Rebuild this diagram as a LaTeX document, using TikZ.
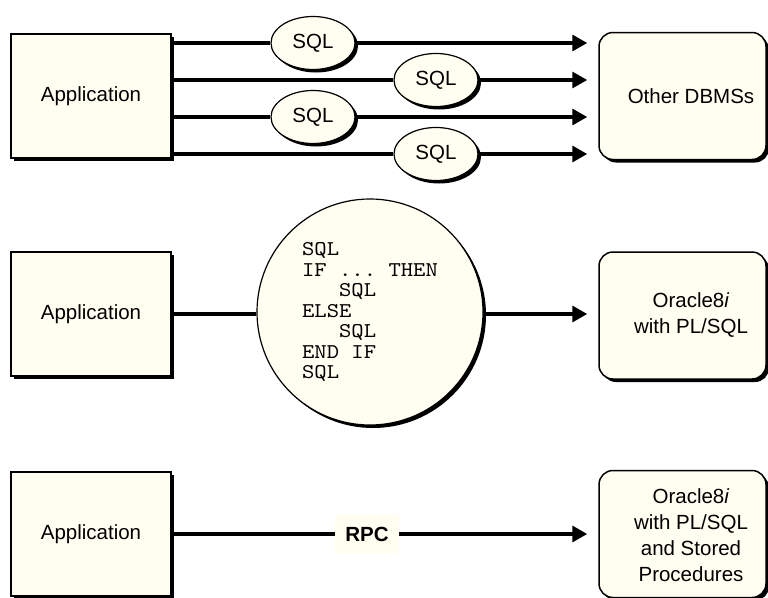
\documentclass[tikz,border=0pt]{standalone}
\usepackage{fontspec}
\setmainfont{Liberation Sans}
\setmonofont{lmmono10-regular}[Extension=.otf,FakeStretch=1.12]
\usetikzlibrary{shapes.geometric,shadows,arrows.meta}
\definecolor{cream}{RGB}{255,254,240}

\begin{document}
\begin{tikzpicture}
  [x=1pt,y=-1pt,
   every node/.style={font=\fontsize{20.5}{26}\selectfont},
   dropshade/.style={drop shadow={shadow xshift=3pt,shadow yshift=-3pt,fill=black,opacity=1}},
   appbox/.style={draw,line width=1.5pt,fill=cream,dropshade,minimum width=160pt,minimum height=124pt},
   dbbox/.style={draw,line width=1.5pt,fill=cream,dropshade,rounded corners=14pt,minimum width=167pt,minimum height=127pt},
   sqlbubble/.style={ellipse,draw,line width=1.2pt,fill=cream,dropshade,minimum width=84pt,minimum height=53pt,inner sep=0pt},
   wire/.style={line width=3.3pt},
   tip/.style={-{Triangle[length=15pt,width=16pt]},shorten >=11pt}]
  \useasboundingbox (0,0) rectangle (768,597);

  % embedded SQL
  \node[appbox] (app1) at (91,96) {Application};
  \node[dbbox] (dbms) at (682.5,96) {};
  \node (dbmstxt) at (691,96) {Other DBMSs};

  \foreach \n/\x/\y in {1/313/43,2/436/80,3/313/117,4/436/154} {
    \node[sqlbubble] (sql\n) at (\x,\y) {SQL};
    \draw[wire] (sql\n.west -| app1.east) -- (sql\n.west);
    \draw[wire,tip] (sql\n.east) -- (sql\n.east -| dbms.west);
  }

  % PL/SQL block
  \node[appbox] (app2) at (91,314) {Application};
  \node[circle,draw,line width=1.2pt,fill=cream,dropshade,minimum size=226pt,inner sep=0pt,
        align=left,font=\ttfamily\fontsize{21}{20.5}\selectfont] (plsql) at (370,312)
    {SQL\\IF ... THEN\\\phantom{XXX}SQL\\ELSE\\\phantom{XXX}SQL\\END IF\\SQL};
  \node[dbbox] (ora1) at (682.5,315.5) {};
  \node[align=center] (ora1txt) at (691,315.5) {Oracle8\textit{i}\\with PL/SQL};

  \draw[wire] (app2.east) -- (app2.east -| plsql.west);
  \draw[wire,tip] (app2.east -| plsql.east) -- (app2.east -| ora1.west);

  % stored procedures
  \node[appbox] (app3) at (91,534) {Application};
  \node[dbbox] (ora2) at (682.5,534) {};
  \node[align=center] (ora2txt) at (691,535.5) {Oracle8\textit{i}\\with PL/SQL\\and Stored\\Procedures};
  \node[fill=cream,font=\bfseries\fontsize{20.5}{26}\selectfont,minimum width=64pt,minimum height=38pt] (rpc) at (367,534) {RPC};

  \draw[wire] (app3.east) -- (rpc.west);
  \draw[wire,tip] (rpc.east) -- (rpc.east -| ora2.west);

\end{tikzpicture}
\end{document}
